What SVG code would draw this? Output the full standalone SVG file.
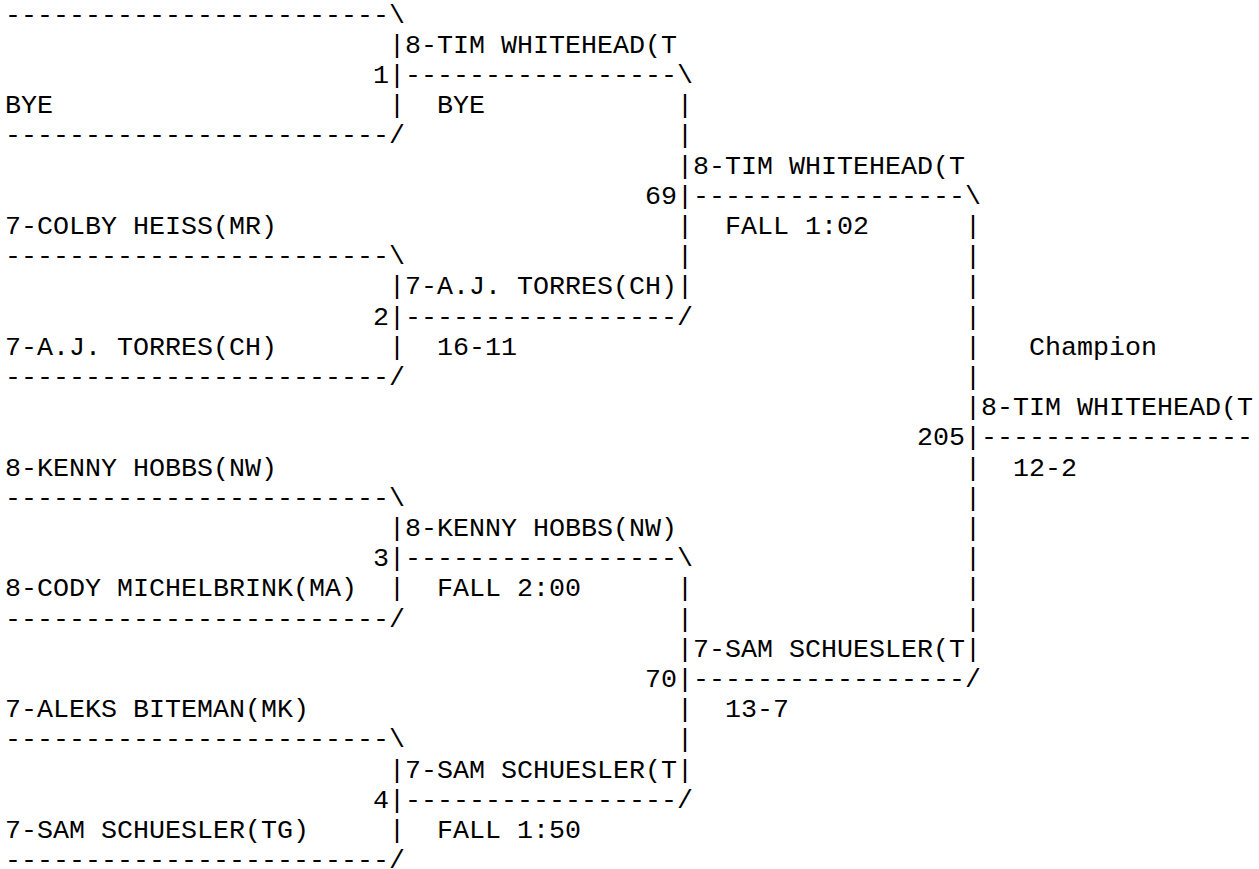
<svg xmlns="http://www.w3.org/2000/svg" width="1259" height="869" viewBox="0 0 1259 869">
<style>
text{font-family:"Liberation Mono","Courier New",monospace;font-size:26.667px;fill:#000;white-space:pre}
</style>
<rect width="1259" height="869" fill="#fff"/>
<g id="connectors" xml:space="preserve">
<text x="5" y="22.6">------------------------\</text>
<text x="389" y="52.8">|</text>
<text x="373" y="83.0">1|-----------------\</text>
<text x="389" y="113.2">|</text><text x="677" y="113.2">|</text>
<text x="5" y="143.4">------------------------/</text><text x="677" y="143.4">|</text>
<text x="677" y="173.6">|</text>
<text x="645" y="203.8">69|-----------------\</text>
<text x="677" y="234.0">|</text><text x="965" y="234.0">|</text>
<text x="5" y="264.2">------------------------\</text><text x="677" y="264.2">|</text><text x="965" y="264.2">|</text>
<text x="389" y="294.4">|</text><text x="677" y="294.4">|</text><text x="965" y="294.4">|</text>
<text x="373" y="324.6">2|-----------------/</text><text x="965" y="324.6">|</text>
<text x="389" y="354.8">|</text><text x="965" y="354.8">|</text>
<text x="5" y="385.0">------------------------/</text><text x="965" y="385.0">|</text>
<text x="965" y="415.2">|</text>
<text x="917" y="445.4">205|-----------------</text>
<text x="965" y="475.6">|</text>
<text x="5" y="505.8">------------------------\</text><text x="965" y="505.8">|</text>
<text x="389" y="536.0">|</text><text x="965" y="536.0">|</text>
<text x="373" y="566.2">3|-----------------\</text><text x="965" y="566.2">|</text>
<text x="389" y="596.4">|</text><text x="677" y="596.4">|</text><text x="965" y="596.4">|</text>
<text x="5" y="626.6">------------------------/</text><text x="677" y="626.6">|</text><text x="965" y="626.6">|</text>
<text x="677" y="656.8">|</text><text x="965" y="656.8">|</text>
<text x="645" y="687.0">70|-----------------/</text>
<text x="677" y="717.2">|</text>
<text x="5" y="747.4">------------------------\</text><text x="677" y="747.4">|</text>
<text x="389" y="777.6">|</text><text x="677" y="777.6">|</text>
<text x="373" y="807.8">4|-----------------/</text>
<text x="389" y="838.0">|</text>
<text x="5" y="868.2">------------------------/</text>
</g>
<g id="round1">
<g id="e1a"><text x="5" y="113.2">BYE</text></g>
<g id="e2a"><text x="5" y="234.0">7-COLBY HEISS(MR)</text></g>
<g id="e2b"><text x="5" y="354.8">7-A.J. TORRES(CH)</text></g>
<g id="e3a"><text x="5" y="475.6">8-KENNY HOBBS(NW)</text></g>
<g id="e3b"><text x="5" y="596.4">8-CODY MICHELBRINK(MA)</text></g>
<g id="e4a"><text x="5" y="717.2">7-ALEKS BITEMAN(MK)</text></g>
<g id="e4b"><text x="5" y="838.0">7-SAM SCHUESLER(TG)</text></g>
</g>
<g id="round2">
<g id="m1"><text x="405" y="52.8">8-TIM WHITEHEAD(T</text><text x="437" y="113.2">BYE</text></g>
<g id="m2"><text x="405" y="294.4">7-A.J. TORRES(CH)</text><text x="437" y="354.8">16-11</text></g>
<g id="m3"><text x="405" y="536.0">8-KENNY HOBBS(NW)</text><text x="437" y="596.4">FALL 2:00</text></g>
<g id="m4"><text x="405" y="777.6">7-SAM SCHUESLER(T</text><text x="437" y="838.0">FALL 1:50</text></g>
</g>
<g id="round3">
<g id="m69"><text x="693" y="173.6">8-TIM WHITEHEAD(T</text><text x="725" y="234.0">FALL 1:02</text></g>
<g id="m70"><text x="693" y="656.8">7-SAM SCHUESLER(T</text><text x="725" y="717.2">13-7</text></g>
</g>
<g id="final">
<g id="champion-label"><text x="1029" y="354.8">Champion</text></g>
<g id="m205"><text x="981" y="415.2">8-TIM WHITEHEAD(T</text><text x="1013" y="475.6">12-2</text></g>
</g>
</svg>
